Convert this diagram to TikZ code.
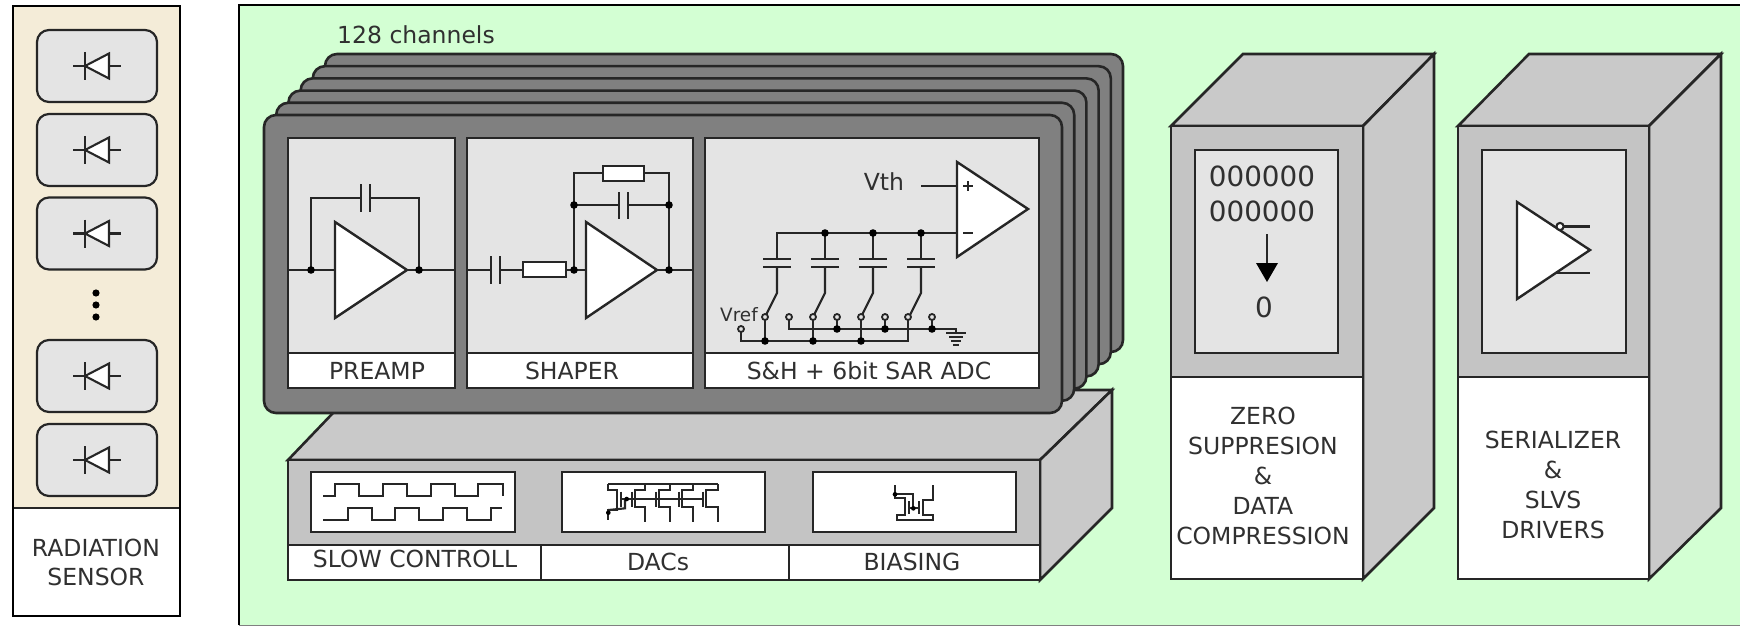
\documentclass[tikz,border=0pt]{standalone}
\usepackage{fontspec}
\setmainfont{DejaVu Sans}
\definecolor{ink}{HTML}{262626}
\definecolor{txt}{HTML}{303030}
\definecolor{panelgreen}{HTML}{D3FFD3}
\definecolor{cream}{HTML}{F4ECD8}
\definecolor{cell}{HTML}{E4E4E4}
\definecolor{card}{HTML}{808080}
\definecolor{facegray}{HTML}{C4C4C4}
\definecolor{topgray}{HTML}{C9C9C9}
\tikzset{
  x=0.5pt,y=-0.5pt,
  box/.style={draw=ink,line width=1.3pt,line join=miter},
  wire/.style={draw=ink,line width=1.1pt,line join=miter},
  thinwire/.style={draw=ink,line width=1.05pt,line join=miter},
  lbl/.style={font=\fontsize{11.75}{14.9}\selectfont,text=txt,inner sep=0pt,align=center},
  jdot/.style={fill=black,draw=none},
}
\newcommand{\jd}[2]{\fill[jdot] (#1,#2) circle[radius=3.8];}
\newcommand{\sw}[2]{\filldraw[fill=cell,draw=ink,line width=.9pt] (#1,#2) circle[radius=3];}
\begin{document}
\begin{tikzpicture}
\useasboundingbox (0,0) rectangle (1740,626);
\fill[white] (0,0) rectangle (1740,626);
% ---------- radiation sensor ----------
\draw[draw=black,line width=1.4pt,fill=white] (13,6) rectangle (180,616);
\fill[cream] (14,7) rectangle (179,508);
\draw[box] (13,508) -- (180,508);
\draw[draw=black,line width=1.4pt] (13,6) rectangle (180,616);
\foreach \c in {66,150,233.5,376,460}{
  \draw[draw=ink,line width=1.1pt,fill=cell,rounded corners=6pt] (37,\c-36) rectangle (157,\c+36);
  \draw[wire] (73,\c) -- (121,\c);
  \draw[draw=ink,line width=1.4pt] (85,\c-14) -- (85,\c+14);
  \draw[thinwire,fill=white] (85,\c) -- (109,\c-12.5) -- (109,\c+12.5) -- cycle;
}
\foreach \c in {293,305,317}{ \fill (96,\c) circle[radius=3.6]; }
\node[lbl] (sensorlabel) at (96,562.5) {RADIATION\\SENSOR};
% ---------- green panel ----------
\fill[panelgreen] (239,5) rectangle (1745,625);
\draw[draw=black,line width=1.4pt] (239,625) -- (239,5) -- (1745,5);
\draw[draw=gray,line width=.6pt] (239,625.5) -- (1745,625.5);
% ---------- base block ----------
\filldraw[box,fill=topgray] (288,460) -- (355,390) -- (1112,390) -- (1040,460) -- cycle;
\filldraw[box,fill=topgray] (1040,460) -- (1112,390) -- (1112,508) -- (1040,580) -- cycle;
\filldraw[box,fill=facegray] (288,460) rectangle (1040,545);
\filldraw[box,fill=white] (288,545) rectangle (1040,580);
\draw[box] (541,545) -- (541,580);
\draw[box] (789,545) -- (789,580);
\filldraw[box,fill=white] (311,472) rectangle (515,532);
\filldraw[box,fill=white] (562,472) rectangle (765,532);
\filldraw[box,fill=white] (813,472) rectangle (1016,532);
\node[lbl] (slowlabel) at (415,559) {SLOW CONTROLL};
\node[lbl] (daclabel) at (658,562) {DACs};
\node[lbl] (biaslabel) at (912,562) {BIASING};
% slow control waves
\draw[thinwire] (323,496) -- (335,496) -- (335,484) -- (359,484) -- (359,496) -- (383,496) -- (383,484) -- (407,484) -- (407,496) -- (431,496) -- (431,484) -- (455,484) -- (455,496) -- (478,496) -- (478,484) -- (503,484) -- (503,496);
\draw[thinwire] (323,520) -- (348,520) -- (348,508) -- (372,508) -- (372,520) -- (395,520) -- (395,508) -- (419,508) -- (419,520) -- (443,520) -- (443,508) -- (467,508) -- (467,520) -- (491,520) -- (491,508) -- (502,508);
% DAC icon (origin 600,475; crop units /3)
\begin{scope}[shift={(600,475)},x=.1667pt,y=-.1667pt]
  \draw[thinwire] (25,28) -- (355,28);
  \draw[thinwire] (25,28) -- (25,45) -- (50,45) -- (50,105) -- (25,105) -- (25,135);
  \draw[thinwire] (25,105) -- (75,100) -- (75,72);
  \draw[thinwire] (60,72) -- (310,72);
  \draw[thinwire] (62,50) -- (62,95);
  \draw[thinwire] (95,50) -- (95,95);
  \draw[thinwire] (135,28) -- (135,45) -- (105,45) -- (105,95) -- (135,95) -- (135,140);
  \draw[thinwire] (168,50) -- (168,95);
  \draw[thinwire] (210,28) -- (210,45) -- (177,45) -- (177,95) -- (210,95) -- (210,140);
  \draw[thinwire] (238,50) -- (238,95);
  \draw[thinwire] (280,28) -- (280,45) -- (247,45) -- (247,95) -- (280,95) -- (280,140);
  \draw[thinwire] (310,50) -- (310,95);
  \draw[thinwire] (355,28) -- (355,45) -- (319,45) -- (319,95) -- (355,95) -- (355,140);
  \fill (25,113) circle[radius=7];
  \fill (80,72) circle[radius=7];
\end{scope}
% biasing icon (origin 880,475)
\begin{scope}[shift={(880,475)},x=.1667pt,y=-.1667pt]
  \draw[thinwire] (45,30) -- (45,70) -- (75,70) -- (75,120) -- (50,120) -- (50,135) -- (160,135) -- (160,120) -- (130,120) -- (130,75) -- (160,75) -- (160,30);
  \draw[thinwire] (45,58) -- (100,58) -- (100,100);
  \draw[thinwire] (87,78) -- (87,118);
  \draw[thinwire] (118,78) -- (118,118);
  \draw[thinwire] (87,100) -- (118,100);
  \fill (45,58) circle[radius=7];
  \fill (100,100) circle[radius=7];
\end{scope}
% ---------- channel cards ----------
\foreach \i in {5,4,3,2,1,0}{
  \filldraw[draw=ink,line width=1.3pt,fill=card,rounded corners=6pt]
    (264+12.2*\i,115-12.2*\i) rectangle (1062+12.2*\i,413-12.2*\i);
}
\node[lbl,text=txt] (channels) at (416,35) {128 channels};
% stage boxes
\filldraw[box,fill=cell] (288,138) rectangle (455,353);
\filldraw[box,fill=white] (288,353) rectangle (455,388);
\filldraw[box,fill=cell] (467,138) rectangle (693,353);
\filldraw[box,fill=white] (467,353) rectangle (693,388);
\filldraw[box,fill=cell] (705,138) rectangle (1039,353);
\filldraw[box,fill=white] (705,353) rectangle (1039,388);
\node[lbl] (preamplabel) at (377,371) {PREAMP};
\node[lbl] (shaperlabel) at (572,371) {SHAPER};
\node[lbl] (adclabel) at (869,371) {S\&H + 6bit SAR ADC};
% preamp circuit
\draw[wire] (288,270) -- (455,270);
\draw[wire] (311,270) -- (311,198) -- (419,198) -- (419,270);
\fill[cell] (362,180) rectangle (369,216);
\draw[draw=ink,line width=1.4pt] (361,184) -- (361,212) (370,184) -- (370,212);
\filldraw[thinwire,line width=1.2pt,fill=white] (335,222) -- (335,318) -- (407,270) -- cycle;
\jd{311}{270}\jd{419}{270}
% shaper circuit
\draw[wire] (467,270) -- (693,270);
\fill[cell] (492,262) rectangle (499,278);
\draw[draw=ink,line width=1.4pt] (491,256) -- (491,284) (500,256) -- (500,284);
\filldraw[thinwire,line width=1.2pt,fill=white] (523,262) rectangle (566,277);
\draw[wire] (574,270) -- (574,173) -- (669,173) -- (669,270);
\draw[wire] (574,205) -- (669,205);
\filldraw[thinwire,line width=1.2pt,fill=white] (603,166) rectangle (644,181);
\fill[cell] (620,198) rectangle (627,212);
\draw[draw=ink,line width=1.4pt] (619,192) -- (619,219) (628,192) -- (628,219);
\filldraw[thinwire,line width=1.2pt,fill=white] (586,222) -- (586,318) -- (657,270) -- cycle;
\jd{574}{270}\jd{669}{270}\jd{574}{205}\jd{669}{205}
% ADC circuit
\draw[wire] (921,186) -- (957,186);
\draw[wire] (777,259) -- (777,233) -- (957,233);
\filldraw[thinwire,line width=1.2pt,fill=white] (957,162) -- (957,257) -- (1028,209) -- cycle;
\draw[draw=ink,line width=1.1pt] (963,186) -- (973,186) (968,181) -- (968,191);
\draw[draw=ink,line width=1.1pt] (963,233) -- (973,233);
\node[lbl] (vth) at (884,182) {Vth};
\foreach \c in {777,825,873,921}{
  \draw[wire] (\c,233) -- (\c,259);
  \draw[draw=ink,line width=1.2pt] (\c-14,259) -- (\c+14,259) (\c-14,267) -- (\c+14,267);
  \draw[wire] (\c,267) -- (\c,293) -- (\c-12,317);
}
\jd{825}{233}\jd{873}{233}\jd{921}{233}
% switch rails
\draw[wire] (741,329) -- (741,341) -- (908,341) -- (908,317);
\draw[wire] (765,317) -- (765,341) (813,317) -- (813,341) (861,317) -- (861,341);
\draw[wire] (789,317) -- (789,329) -- (956,329) -- (956,333);
\draw[wire] (837,317) -- (837,329) (885,317) -- (885,329) (932,317) -- (932,329);
\draw[draw=ink,line width=1pt] (946,333) -- (966,333) (949,337) -- (963,337) (951,341) -- (961,341) (953,344.5) -- (959,344.5);
\jd{765}{341}\jd{813}{341}\jd{861}{341}
\jd{837}{329}\jd{885}{329}\jd{932}{329}
\foreach \c in {765,789,813,837,861,885,908,932}{ \sw{\c}{317} }
\sw{741}{329}
\node[lbl,font=\fontsize{9.2}{11}\selectfont] (vref) at (739,315) {Vref};
% ---------- zero suppression column ----------
\filldraw[box,fill=topgray] (1171,126) -- (1243,54) -- (1434,54) -- (1363,126) -- cycle;
\filldraw[box,fill=topgray] (1363,126) -- (1434,54) -- (1434,508) -- (1363,579) -- cycle;
\filldraw[box,fill=facegray] (1171,126) rectangle (1363,377);
\filldraw[box,fill=white] (1171,377) rectangle (1363,579);
\filldraw[box,fill=cell] (1195,150) rectangle (1338,353);
\node[lbl,font=\fontsize{13.9}{17.6}\selectfont] (bits) at (1262,193.5) {000000\\000000};
\draw[draw=ink,line width=1.1pt] (1267,234) -- (1267,264);
\fill[black] (1256,263) -- (1278,263) -- (1267,282) -- cycle;
\node[lbl,font=\fontsize{13.9}{17.6}\selectfont] (zero) at (1264,307) {0};
\node[lbl] (zerolabel) at (1263,476) {ZERO\\SUPPRESION\\\&\\DATA\\COMPRESSION};
% ---------- serializer column ----------
\filldraw[box,fill=topgray] (1458,126) -- (1529,54) -- (1721,54) -- (1649,126) -- cycle;
\filldraw[box,fill=topgray] (1649,126) -- (1721,54) -- (1721,508) -- (1649,579) -- cycle;
\filldraw[box,fill=facegray] (1458,126) rectangle (1649,377);
\filldraw[box,fill=white] (1458,377) rectangle (1649,579);
\filldraw[box,fill=cell] (1482,150) rectangle (1626,353);
\draw[thinwire] (1560,226.5) -- (1590,226.5) (1555,273) -- (1590,273);
\filldraw[thinwire,line width=1.2pt,fill=white] (1517,202) -- (1517,299) -- (1590,250) -- cycle;
\filldraw[thinwire,fill=white] (1560,226.5) circle[radius=3.6];
\node[lbl] (serlabel) at (1553,485) {SERIALIZER\\\&\\SLVS\\DRIVERS};
\end{tikzpicture}
\end{document}
